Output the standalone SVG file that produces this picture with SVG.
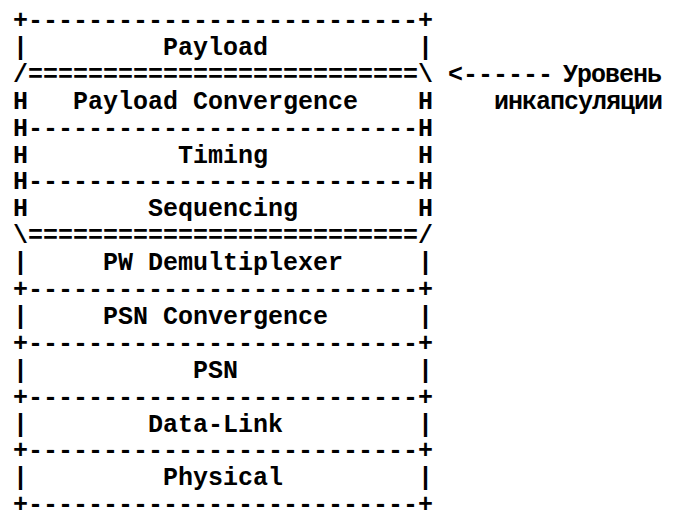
<svg xmlns="http://www.w3.org/2000/svg" width="678" height="514" viewBox="0 0 678 514">
  <style>
    text { font-family: "Liberation Mono", "Courier New", "DejaVu Sans Mono", monospace; font-weight: bold; font-size: 25px; fill: #000; white-space: pre; }
    .cyr { letter-spacing: -1px; }
  </style>
  <rect width="678" height="514" fill="#fff"/>
  <!-- ASCII frame lines between the layers (about 27px line pitch) -->
  <g id="frame" xml:space="preserve">
    <text x="13" y="28">+--------------------------+</text>
    <text x="13" y="81.8">/==========================\</text>
    <text x="13" y="135.6">H--------------------------H</text>
    <text x="13" y="189.4">H--------------------------H</text>
    <text x="13" y="243.2">\==========================/</text>
    <text x="13" y="297">+--------------------------+</text>
    <text x="13" y="350.8">+--------------------------+</text>
    <text x="13" y="404.6">+--------------------------+</text>
    <text x="13" y="458.4">+--------------------------+</text>
    <text x="13" y="512">+--------------------------+</text>
  </g>
  <!-- Protocol layers, top to bottom -->
  <g id="layer-payload" xml:space="preserve"><text x="13" y="54.9">|         Payload          |</text></g>
  <g id="layer-payload-convergence" xml:space="preserve"><text x="13" y="108.7">H   Payload Convergence    H</text></g>
  <g id="layer-timing" xml:space="preserve"><text x="13" y="162.5">H          Timing          H</text></g>
  <g id="layer-sequencing" xml:space="preserve"><text x="13" y="216.3">H        Sequencing        H</text></g>
  <g id="layer-pw-demux" xml:space="preserve"><text x="13" y="270.1">|     PW Demultiplexer     |</text></g>
  <g id="layer-psn-convergence" xml:space="preserve"><text x="13" y="323.9">|     PSN Convergence      |</text></g>
  <g id="layer-psn" xml:space="preserve"><text x="13" y="377.7">|           PSN            |</text></g>
  <g id="layer-data-link" xml:space="preserve"><text x="13" y="431.5">|        Data-Link         |</text></g>
  <g id="layer-physical" xml:space="preserve"><text x="13" y="485.3">|         Physical         |</text></g>
  <!-- Encapsulation layer annotation -->
  <g id="connectors" xml:space="preserve"><text x="448" y="81.8">&lt;------</text></g>
  <g id="label-encapsulation" xml:space="preserve">
    <text class="cyr" x="563" y="81.8">Уровень</text>
    <text class="cyr" x="494" y="108.7">инкапсуляции</text>
  </g>
</svg>
